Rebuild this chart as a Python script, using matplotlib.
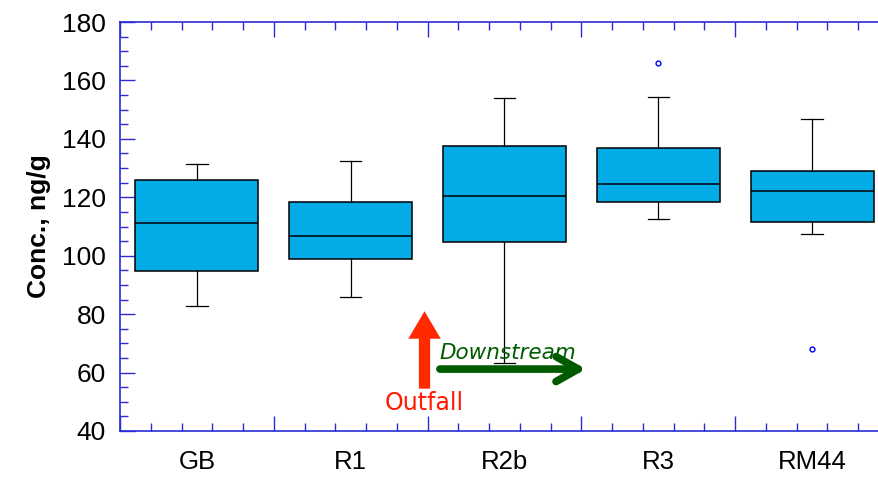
import matplotlib
matplotlib.use('Agg')
import matplotlib.pyplot as plt
import matplotlib.ticker as mticker

plt.rcParams.update({
    'font.family': ['Liberation Sans', 'DejaVu Sans'],
})

BOX   = '#03ABE7'
AXIS  = '#2a2ad8'
RED   = '#ff2a00'
GREEN = '#005a00'

# box statistics (ng/g)
sites    = ['GB', 'R1', 'R2b', 'R3', 'RM44']
whislo   = [82.9, 85.9, 63.3, 112.6, 107.4]
q1       = [94.9, 98.9, 104.7, 118.5, 111.4]
medians  = [111.1, 106.7, 120.6, 124.6, 122.3]
q3       = [125.8, 118.3, 137.5, 137.0, 129.0]
whishi   = [131.5, 132.3, 154.0, 154.2, 146.7]
outliers = [[], [], [], [166.0], [68.0]]

stats = []
for i, s in enumerate(sites):
    stats.append(dict(label=s, whislo=whislo[i], q1=q1[i], med=medians[i],
                      q3=q3[i], whishi=whishi[i], fliers=outliers[i]))

fig = plt.figure(figsize=(8.79, 4.78), dpi=100)
# right edge runs past the figure, as in the original screenshot
ax = fig.add_axes([120 / 879, 47 / 478, 769 / 879, 409 / 478])

pos = [i + 0.5 for i in range(len(sites))]
ax.bxp(stats, positions=pos, widths=0.8, capwidths=0.14, patch_artist=True,
       boxprops=dict(facecolor=BOX, edgecolor='black', linewidth=1.1),
       medianprops=dict(color='black', linewidth=1.1),
       whiskerprops=dict(color='black', linewidth=0.9),
       capprops=dict(color='black', linewidth=0.9),
       flierprops=dict(marker='o', markersize=3.5, markerfacecolor='none',
                       markeredgecolor='blue', markeredgewidth=1.0))

ax.set_xlim(0, len(sites))
ax.set_ylim(40, 180)

ax.xaxis.set_major_locator(mticker.MultipleLocator(1))
ax.xaxis.set_minor_locator(mticker.MultipleLocator(0.2))
ax.yaxis.set_major_locator(mticker.MultipleLocator(20))
ax.yaxis.set_minor_locator(mticker.MultipleLocator(5))
ax.xaxis.set_major_formatter(mticker.NullFormatter())
ax.tick_params(axis='both', which='both', direction='in', color=AXIS,
               top=True, right=False, width=1)
ax.tick_params(axis='both', which='major', length=11)
ax.tick_params(axis='both', which='minor', length=6)
ax.tick_params(axis='y', which='major', labelsize=19, pad=10)

for side in ['left', 'bottom', 'top']:
    ax.spines[side].set_color(AXIS)
    ax.spines[side].set_linewidth(1.2)
ax.spines['right'].set_visible(False)

# site names sit between the boundary ticks
sec = ax.secondary_xaxis('bottom')
sec.set_xticks(pos)
sec.set_xticklabels(sites, fontsize=18.5)
sec.tick_params(length=0, pad=14)
sec.spines['bottom'].set_visible(False)

ax.set_ylabel('Conc., ng/g', fontsize=19, fontweight='bold', labelpad=8)

# outfall marker and downstream arrow
ax.annotate('', xy=(1.98, 81), xytext=(1.98, 54.5),
            arrowprops=dict(arrowstyle='simple,head_length=1.1,head_width=1.3,tail_width=0.45',
                            color=RED, lw=0, shrinkA=0, shrinkB=0,
                            mutation_scale=18))
ax.text(1.98, 49.5, 'Outfall', color='#ff1a00', fontsize=17, ha='center', va='center',
        family='DejaVu Sans')
ax.annotate('', xy=(3.03, 61.2), xytext=(2.08, 61.2),
            arrowprops=dict(arrowstyle='->,head_length=0.8,head_width=0.45',
                            color=GREEN, lw=5.5, shrinkA=0, shrinkB=0,
                            capstyle='round', joinstyle='round',
                            mutation_scale=20))
ax.text(2.08, 66.8, 'Downstream', color=GREEN, fontsize=15.5, ha='left',
        va='center', style='italic', family='DejaVu Sans')

fig.savefig('out.png', dpi=100)
